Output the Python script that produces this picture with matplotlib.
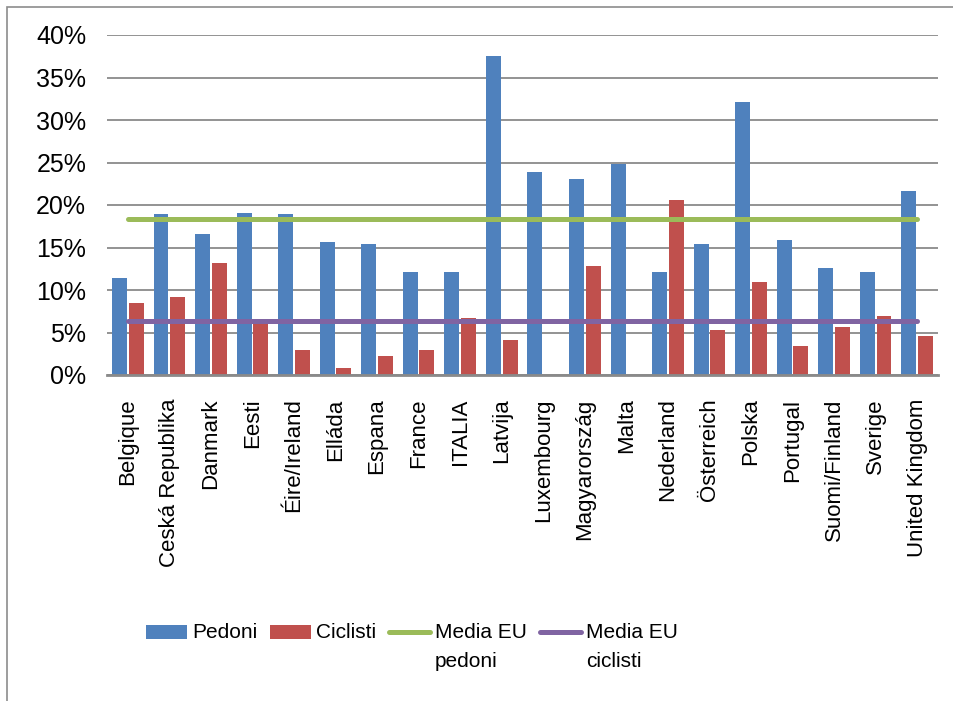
import matplotlib.pyplot as plt
from matplotlib.patches import Rectangle
from matplotlib.lines import Line2D
from matplotlib.ticker import FuncFormatter
from matplotlib.legend_handler import HandlerBase
import numpy as np

plt.rcParams['font.family'] = ['Liberation Sans', 'DejaVu Sans']

countries = ['Belgique', 'Ceská Republika', 'Danmark', 'Eesti', 'Éire/Ireland',
             'Elláda', 'Espana', 'France', 'ITALIA', 'Latvija', 'Luxembourg',
             'Magyarország', 'Malta', 'Nederland', 'Österreich', 'Polska',
             'Portugal', 'Suomi/Finland', 'Sverige', 'United Kingdom']
pedoni = [11.4, 18.9, 16.6, 19.1, 18.9, 15.6, 15.4, 12.1, 12.1, 37.5, 23.9,
          23.1, 24.8, 12.1, 15.4, 32.1, 15.9, 12.6, 12.1, 21.7]
ciclisti = [8.5, 9.2, 13.2, 6.2, 2.9, 0.8, 2.2, 2.9, 6.7, 4.1, 0.0,
            12.8, 0.0, 20.6, 5.3, 10.9, 3.4, 5.7, 6.9, 4.6]
media_pedoni = 18.3
media_ciclisti = 6.3


class UpHandler(HandlerBase):
    # legend key drawn level with the first line of a two-line label
    def __init__(self, shift):
        super().__init__()
        self.shift = shift

    def create_artists(self, legend, orig_handle, xdescent, ydescent, width, height, fontsize, trans):
        yc = -ydescent + height / 2 + self.shift * fontsize
        if isinstance(orig_handle, Line2D):
            a = Line2D([-xdescent, -xdescent + width], [yc, yc], color=orig_handle.get_color(),
                       linewidth=orig_handle.get_linewidth(), solid_capstyle='round')
        else:
            a = Rectangle((-xdescent, yc - 0.34 * fontsize), width, 0.68 * fontsize,
                          facecolor=orig_handle.get_facecolor(), edgecolor='none')
        a.set_transform(trans)
        return [a]


fig = plt.figure(figsize=(9.54, 7.01), dpi=100)
ax = fig.add_axes([107/954, 1 - 375/701, (938-107)/954, (375-35)/701])

# chart border
fig.patches.append(Rectangle((7/954, -0.1), 1.1, 1 - 7/701 + 0.1, transform=fig.transFigure,
                             fill=False, edgecolor='#8c8c8c', linewidth=1.2))

x = np.arange(len(countries))
b1 = ax.bar(x - 0.2, pedoni, width=0.36, color='#4F81BD', zorder=2)
b2 = ax.bar(x + 0.2, ciclisti, width=0.36, color='#C0504D', zorder=2)
l1, = ax.plot([x[0], x[-1]], [media_pedoni, media_pedoni], color='#9BBB59', linewidth=3.6,
              solid_capstyle='round', zorder=3)
l2, = ax.plot([x[0], x[-1]], [media_ciclisti, media_ciclisti], color='#8064A2', linewidth=3.6,
              solid_capstyle='round', zorder=3)

ax.set_xlim(-0.5, len(countries) - 0.5)
ax.set_ylim(0, 40)
ax.set_yticks(range(0, 41, 5))
ax.yaxis.set_major_formatter(FuncFormatter(lambda v, p: f'{v:.0f}%'))
ax.grid(axis='y', color='#8a8a8a', linewidth=1.3, zorder=0)
ax.set_axisbelow(True)
for s in ['top', 'right', 'left']:
    ax.spines[s].set_visible(False)
ax.spines['bottom'].set_color('#8a8a8a')
ax.spines['bottom'].set_linewidth(2)
ax.spines['bottom'].set_zorder(4)

ax.set_xticks(x)
ax.set_xticklabels(countries, rotation=90, fontsize=16)
ax.tick_params(axis='x', length=0, pad=17)
ax.tick_params(axis='y', length=0, pad=15, labelsize=18)

p1, p2 = b1.patches[0], b2.patches[0]
h = UpHandler(0.72)
leg = fig.legend([p1, p2, l1, l2], ['Pedoni\n', 'Ciclisti\n', 'Media EU\npedoni', 'Media EU\nciclisti'],
                 handler_map={p1: h, p2: h, l1: h, l2: h},
                 loc='upper left', bbox_to_anchor=(146/954, 1 - 623/701), ncol=4, frameon=False,
                 fontsize=15, handlelength=1.95, handleheight=0.7, columnspacing=0.63,
                 handletextpad=0.25, borderpad=0, borderaxespad=0)
for t in leg.get_texts():
    t.set_linespacing(1.65)

fig.savefig('out.png', dpi=100)
